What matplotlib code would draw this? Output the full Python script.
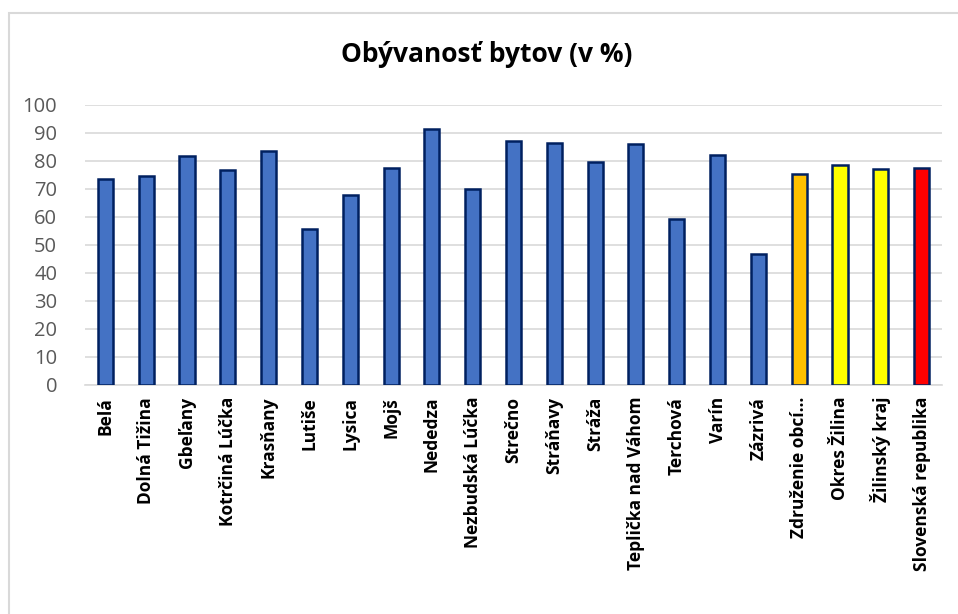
import matplotlib
matplotlib.use("Agg")
import matplotlib.pyplot as plt
from matplotlib.patches import Rectangle

categories = ["Belá", "Dolná Tižina", "Gbeľany", "Kotrčiná Lúčka", "Krasňany", "Lutiše",
              "Lysica", "Mojš", "Nededza", "Nezbudská Lúčka", "Strečno", "Stráňavy",
              "Stráža", "Teplička nad Váhom", "Terchová", "Varín", "Zázrivá",
              "Združenie obcí…", "Okres Žilina", "Žilinský kraj", "Slovenská republika"]
values = [73.4, 74.7, 81.6, 76.6, 83.5, 55.5, 67.9, 77.6, 91.3, 69.8, 87.1, 86.4,
          79.5, 85.9, 59.3, 82.1, 46.8, 75.2, 78.4, 77.1, 77.6]
colors = ["#4472C4"] * 17 + ["#FFC000", "#FFFF00", "#FFFF00", "#FF0000"]
yticks = list(range(0, 101, 10))

plt.rcParams['font.family'] = ['Open Sans', 'DejaVu Sans']

fig = plt.figure(figsize=(9.58, 6.14), dpi=100)
ax = fig.add_axes([85/958, 1 - 384.5/614, (942-85)/958, (384.5-105)/614])

x = list(range(len(categories)))
ax.bar(x, values, width=0.37, color=colors, edgecolor="#002060", linewidth=1.8, zorder=3)
ax.set_xlim(-0.5, len(categories) - 0.5)
ax.set_ylim(0, 100)
ax.set_yticks(yticks)
ax.set_yticklabels([str(t) for t in yticks], fontsize=14.5, color="#595959")
ax.tick_params(axis='y', length=0, pad=20)
ax.tick_params(axis='x', length=0, pad=9)
ax.set_xticks(x)
ax.set_xticklabels(categories, rotation=90, fontsize=12.5, fontweight='bold', color="black")
ax.grid(axis='y', color="#d9d9d9", linewidth=1.2, zorder=0)
for s in ["top", "right", "left"]:
    ax.spines[s].set_visible(False)
ax.spines["bottom"].set_color("#d9d9d9")
ax.spines["bottom"].set_linewidth(1.2)

fig.text(487/958, 1 - 54/614, "Obývanosť bytov (v %)", ha="center", va="center",
         fontsize=19, fontweight="bold")

fig.patches.append(Rectangle((8.5/958, -0.05), 1.05, 1.05 - 13/614,
                             transform=fig.transFigure, fill=False,
                             edgecolor="#d9d9d9", linewidth=1.5))

fig.savefig("out.png", dpi=100, facecolor="white")
